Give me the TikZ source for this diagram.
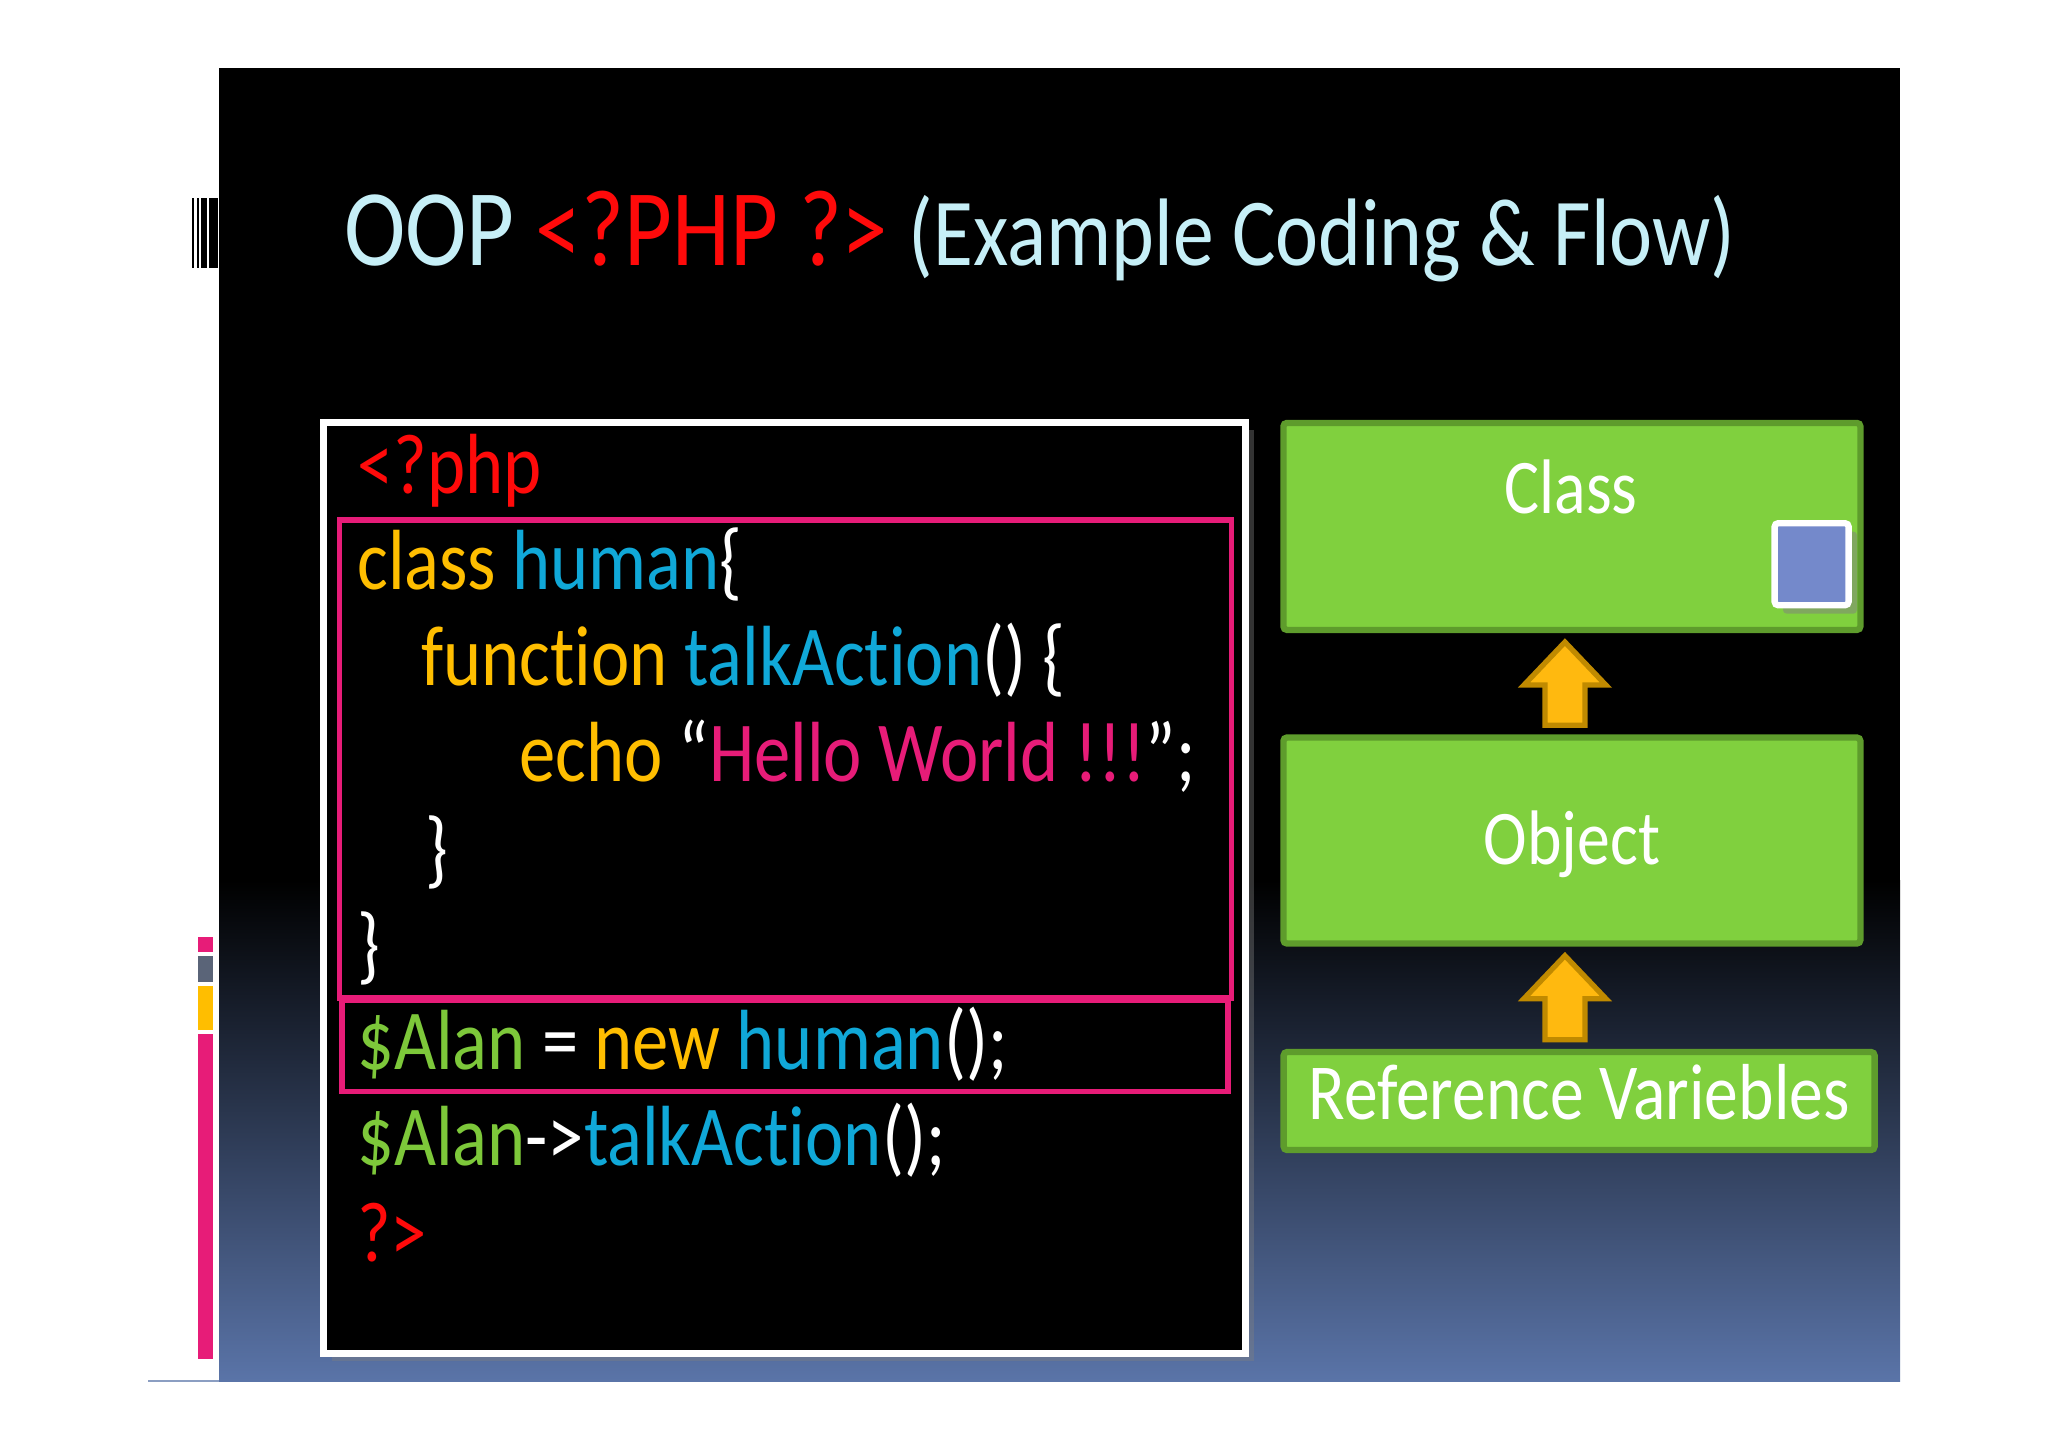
\documentclass[tikz,border=0pt]{standalone}
\usepackage{fontspec}
\setmainfont{Carlito}[FakeStretch=0.85,Ligatures=NoCommon,RawFeature={-liga;-clig}]
\usetikzlibrary{calc,shadows}
\definecolor{titlecyan}{RGB}{198,239,247}
\definecolor{tagred}{RGB}{255,10,10}
\definecolor{kwamber}{RGB}{255,190,0}
\definecolor{idcyan}{RGB}{16,168,216}
\definecolor{strpink}{RGB}{231,28,120}
\definecolor{vargreen}{RGB}{125,200,58}
\definecolor{slideblue}{RGB}{90,116,168}
\definecolor{boxgreen}{RGB}{128,208,62}
\definecolor{boxedge}{RGB}{94,156,44}
\definecolor{arrowfill}{RGB}{255,185,15}
\definecolor{arrowedge}{RGB}{192,138,0}
\definecolor{sqblue}{RGB}{116,137,203}
\definecolor{bargrey}{RGB}{90,100,120}
\newcommand\cTag[1]{\textcolor{tagred}{#1}}
\newcommand\cKw[1]{\textcolor{kwamber}{#1}}
\newcommand\cId[1]{\textcolor{idcyan}{#1}}
\newcommand\cStr[1]{\textcolor{strpink}{#1}}
\newcommand\cVar[1]{\textcolor{vargreen}{#1}}
\begin{document}
\begin{tikzpicture}[x=0.1mm,y=-0.1mm,
  codeline/.style={anchor=base west,inner sep=0pt,text=white,font=\fontsize{24.3}{29}\selectfont},
  pinkbox/.style={draw=strpink,line width=1.5pt,inner sep=0pt},
  greenbox/.style={draw=boxedge,fill=boxgreen,line width=1.8pt,rounded corners=1pt,inner sep=0pt,text=white,font=\fontsize{22}{26}\selectfont},
  uparrow/.style={draw=arrowedge,fill=arrowfill,line width=1.5pt,line join=miter}]
\useasboundingbox (0,0) rectangle (2048,1447);
\fill[white] (0,0) rectangle (2048,1447);
% slide
\fill[black] (219,68) rectangle (1900,1381);
\shade[top color=black,bottom color=slideblue] (219,880) rectangle (1900,1381);
\draw[slideblue!70!white,line width=0.6pt] (148,1381) -- (219,1381);
% bars on the left
\fill[black] (192.3,198) rectangle (194,268);
\fill[black] (197.3,198) rectangle (199,268);
\fill[black] (201,198) rectangle (206.7,268);
\fill[black] (209.3,198) rectangle (218.3,268);
\fill[strpink] (198.3,937) rectangle (213,952);
\fill[bargrey] (198.3,956) rectangle (213,982);
\fill[kwamber] (198.3,986) rectangle (213,1030);
\fill[strpink] (198.3,1034) rectangle (213,1359);
% title
\node[anchor=base west,inner sep=0pt,text=titlecyan,font=\fontsize{31}{36}\selectfont] (title) at (343.5,265)
  {OOP \textcolor{tagred}{<?PHP ?>} {\fontsize{27.3}{32}\selectfont(Example Coding \& Flow)}};
% code
\node[draw=white,fill=black,line width=2pt,minimum width=92.2mm,minimum height=93.1mm,drop shadow={opacity=0.4}] (code) at (784.8,887.5) {};
\node[pinkbox,minimum width=89.2mm,minimum height=47.8mm] (clsbox) at (785.6,758.9) {};
\node[pinkbox,minimum width=88.6mm,minimum height=9.1mm] (newbox) at (784.9,1046.2) {};
\node[codeline] (l1) at (356.6,493.7) {\cTag{<?php}};
\node[codeline] (l2) at (356.6,589.7) {\cKw{class} \cId{human}\{};
\node[codeline] (l3) at (420.6,685.7) {\cKw{function} \cId{talkAction}() \{};
\node[codeline] (l4) at (518.5,781.7) {\cKw{echo} “\cStr{Hello World !!!}”;};
\node[codeline] (l5) at (424.5,877.7) {\}};
\node[codeline] (l6) at (356.6,973.7) {\}};
\node[codeline] (l7) at (356.6,1069.7) {\cVar{\$Alan} = \cKw{new} \cId{human}();};
\node[codeline] (l8) at (356.6,1165.7) {\cVar{\$Alan}->\cId{talkAction}();};
\node[codeline] (l9) at (356.6,1261.7) {\cTag{?>}};
% flow
\node[greenbox,minimum width=57.7mm,minimum height=20.7mm] (cls) at (1571.9,526.4) {};
\node[text=white,inner sep=0pt,font=\fontsize{22}{26}\selectfont] (clstxt) at (1571.2,487) {Class};
\node[draw=white,fill=sqblue,line width=1.8pt,rounded corners=1pt,minimum width=7.4mm,minimum height=8.2mm,drop shadow={opacity=0.5}] (sq) at (1811.6,564.2) {};
\node[greenbox,minimum width=57.7mm,minimum height=20.6mm,text height=13.7pt,text depth=0pt] (obj) at (1571.9,840.5) {Object};
\node[greenbox,minimum width=59.1mm,minimum height=9.8mm,text height=10.4pt,text depth=0pt,font=\fontsize{22.6}{26}\selectfont] (ref) at (1579.1,1101) {Reference Variebles};
\coordinate (t1) at ($(cls.south)+(-7,9)$);
\coordinate (b1) at ($(obj.north)+(-7,-9)$);
\draw[uparrow] ($(b1)+(-20,0)$) -- ($(t1)+(-20,43)$) -- ($(t1)+(-41,43)$) -- (t1)
  -- ($(t1)+(41,43)$) -- ($(t1)+(20,43)$) -- ($(b1)+(20,0)$) -- cycle;
\coordinate (t2) at ($(obj.south)+(-7,9)$);
\coordinate (b2) at ($(t2 |- ref.north)+(0,-9)$);
\draw[uparrow] ($(b2)+(-20,0)$) -- ($(t2)+(-20,43)$) -- ($(t2)+(-41,43)$) -- (t2)
  -- ($(t2)+(41,43)$) -- ($(t2)+(20,43)$) -- ($(b2)+(20,0)$) -- cycle;
\end{tikzpicture}
\end{document}
